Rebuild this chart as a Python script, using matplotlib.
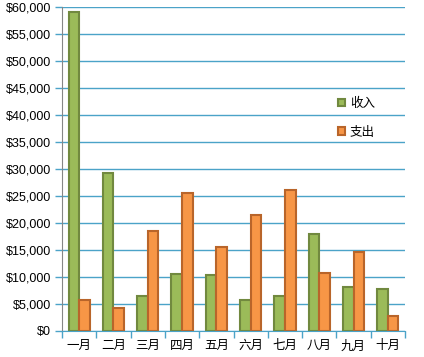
import matplotlib.pyplot as plt
from matplotlib.ticker import FuncFormatter
import numpy as np

months = ['一月', '二月', '三月', '四月', '五月', '六月', '七月', '八月', '九月', '十月']
income = [59100, 29300, 6400, 10600, 10400, 5800, 6400, 18000, 8200, 7800]
expense = [5800, 4300, 18600, 25600, 15600, 21400, 26200, 10800, 14700, 2800]
series_names = ['收入', '支出']

grid_col = '#4BA3C8'

fig = plt.figure(figsize=(4.24, 3.57), dpi=100)
ax = fig.add_axes([62 / 424, 26 / 357, 343 / 424, 324 / 357])

x = np.arange(len(months))
w = 0.31
ax.bar(x - w / 2, income, w, color='#9BBB59', edgecolor='#71893F', linewidth=1.5,
       label=series_names[0], zorder=3)
ax.bar(x + w / 2, expense, w, color='#F79646', edgecolor='#B9652A', linewidth=1.5,
       label=series_names[1], zorder=3)

ax.set_xlim(-0.5, len(months) - 0.5)
ax.set_ylim(0, 60000)
ax.set_yticks(np.arange(0, 60001, 5000))
ax.yaxis.set_major_formatter(FuncFormatter(lambda v, p: f'${v:,.0f}'))
ax.grid(axis='y', color=grid_col, linewidth=1, zorder=0)

ax.set_xticks(x)
ax.set_xticklabels(months, family=['Noto Sans CJK SC', 'DejaVu Sans'], fontsize=9)
ax.set_xticks(np.arange(-0.5, len(months)), minor=True)
ax.tick_params(axis='x', which='major', length=0, pad=6)
ax.tick_params(axis='x', which='minor', length=5, color=grid_col, width=1)
ax.tick_params(axis='y', length=5, color=grid_col, width=1, labelsize=9, pad=3)
for lab in ax.get_yticklabels():
    lab.set_family('Liberation Sans')

for s in ['top', 'right']:
    ax.spines[s].set_visible(False)
ax.spines['left'].set_color('#868686')
ax.spines['bottom'].set_color(grid_col)
ax.spines['left'].set_zorder(4)
ax.spines['bottom'].set_zorder(4)

leg = ax.legend(loc='upper left', bbox_to_anchor=(338 / 424, 1 - 97 / 357),
                bbox_transform=fig.transFigure, frameon=False, borderpad=0,
                borderaxespad=0, handlelength=0.55, handleheight=0.55,
                handletextpad=0.4, labelspacing=1.25,
                prop={'family': ['Noto Sans CJK SC', 'DejaVu Sans'], 'size': 9})

fig.savefig('out.png', dpi=100)
